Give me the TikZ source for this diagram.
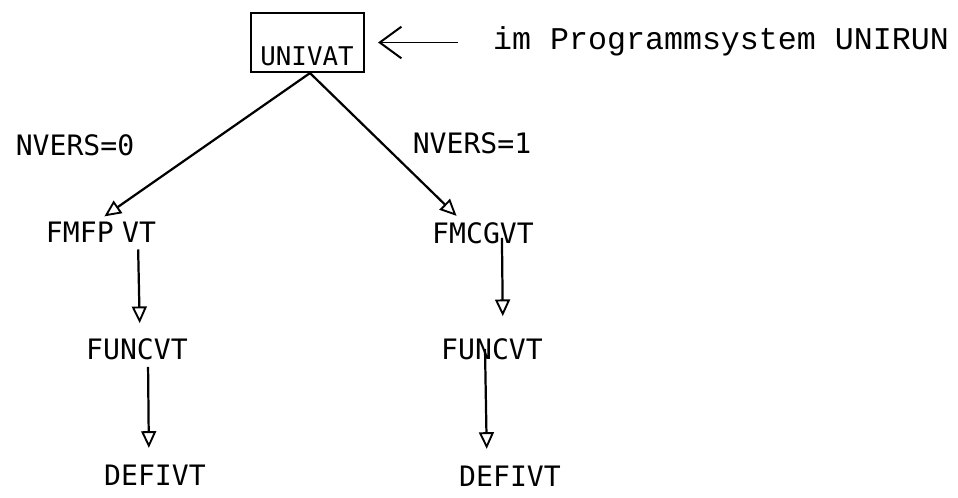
\documentclass[tikz,border=0pt]{standalone}
\usepackage{fontspec}
\usetikzlibrary{arrows.meta}
\newfontfamily\plotfont{DejaVu Sans Mono}
\newfontfamily\typefont{Liberation Mono}
\begin{document}
\begin{tikzpicture}[x=0.03cm, y=-0.03cm,
  lbl/.style={font=\plotfont\fontsize{24}{24}\selectfont, inner sep=0pt},
  note/.style={font=\typefont\fontsize{27}{27}\selectfont, inner sep=0pt},
  frame/.style={draw, line width=1.8pt, minimum width=3.39cm, minimum height=1.77cm, inner sep=0pt},
  tri/.style={line width=1.9pt, -{Triangle[open, length=0.5cm, width=0.45cm, line width=1.6pt]}},
  barb/.style={line width=1.7pt, -{Straight Barb[length=0.65cm, width=0.95cm, line width=1.7pt]}}]
  \useasboundingbox (0,0) rectangle (958,497);

  % calling routine in its frame
  \node[frame] (univat) at (307.5,42.5) {};
  \node[lbl, font=\plotfont\fontsize{22}{22}\selectfont] (univattxt) at (307,56) {UNIVAT};
  \node[note, anchor=base west] (note) at (493,49) {im Programmsystem UNIRUN};
  \draw[barb, shorten <=1.05cm, shorten >=0.39cm] (note.west |- univat.east) -- (univat.east);

  % branch selection
  \node[lbl] (nvers0) at (75,145) {NVERS=0};
  \node[lbl] (nvers1) at (472,143) {NVERS=1};

  % left branch
  \node[lbl] (fmfpvt) at (101,232) {FMFP\hspace{0.3em}VT};
  \node[lbl] (funcvt1) at (137,349) {FUNCVT};
  \node[lbl] (defivt1) at (155,475) {DEFIVT};

  % right branch
  \node[lbl] (fmcgvt) at (483,233) {FMCGVT};
  \node[lbl] (funcvt2) at (492,349) {FUNCVT};
  \node[lbl] (defivt2) at (510,476) {DEFIVT};

  % connectors
  \draw[tri, shorten >=0.27cm] ([shift={(2.5,0)}]univat.south) -- ([shift={(-4,0)}]fmfpvt.north);
  \draw[tri, shorten >=0.27cm] ([shift={(2.5,0)}]univat.south) -- ([shift={(-20,0)}]fmcgvt.north);

  \draw[tri, shorten <=0.21cm, shorten >=0.45cm] (fmfpvt.south -| 138,0) -- (funcvt1.north -| 140,0);
  \draw[tri, shorten <=0.21cm, shorten >=0.5cm] (funcvt1.south -| 148,0) -- (defivt1.north -| 149,0);
  \draw[tri, shorten <=-0.18cm, shorten >=0.66cm] (fmcgvt.south -| 502,0) -- (funcvt2.north -| 503,0);
  \draw[tri, shorten >=0.5cm] (funcvt2.center -| 485,0) -- (defivt2.north -| 487,0);
\end{tikzpicture}
\end{document}
